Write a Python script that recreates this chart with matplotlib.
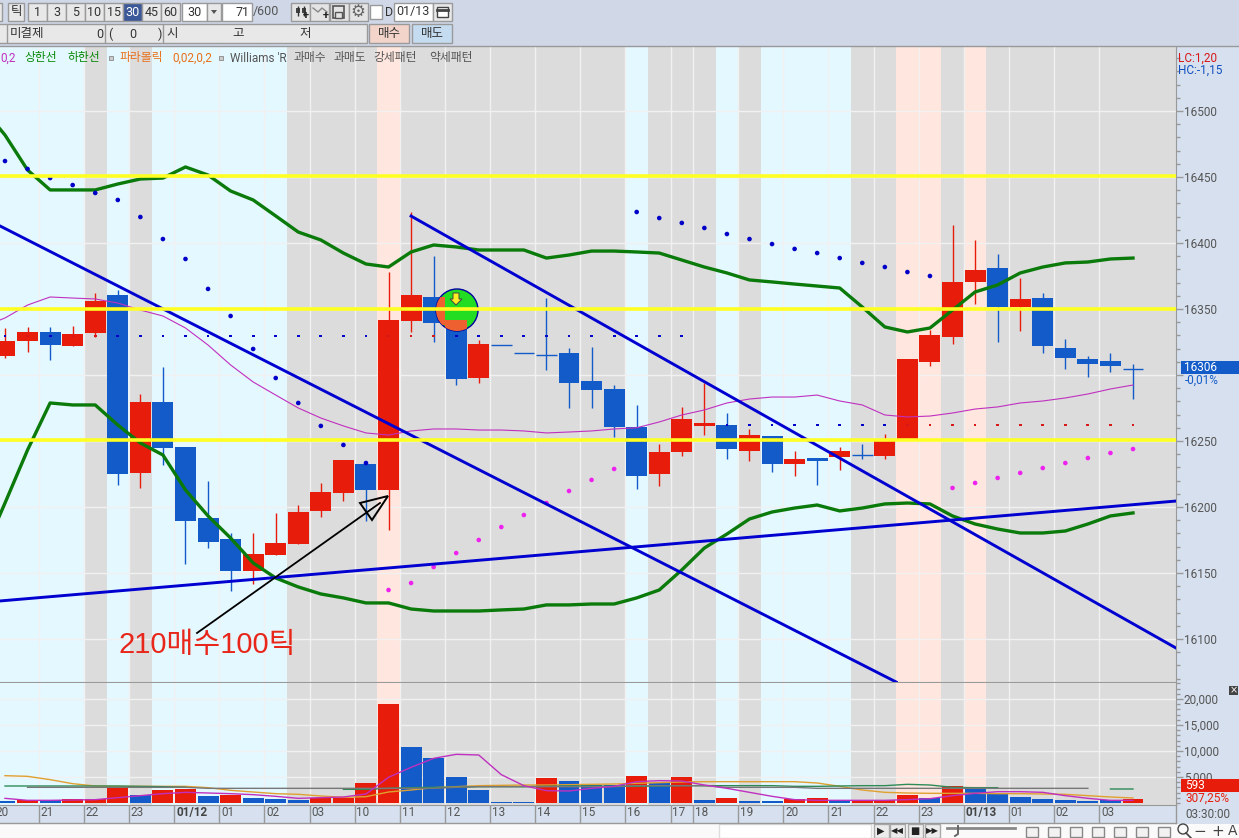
# HTS style 30 minute candle chart with volume panel
import numpy as np
import matplotlib
matplotlib.use('Agg')
import matplotlib.pyplot as plt
from matplotlib.patches import Rectangle, Circle, Polygon
from matplotlib.ticker import FixedLocator, MultipleLocator, FuncFormatter

plt.rcParams['font.family'] = ['Roboto', 'Noto Sans CJK KR', 'DejaVu Sans']

# candles
open_p = [16314.4,16325.8,16332.6,16322.0,16331.8,16360.6,16225.8,16279.5,16245.5,16191.7,16175.8,16151.5,16163.6,
          16172.0,16197.0,16210.6,16232.6,16212.9,16340.9,16359.1,16341.7,16297.7,16322.7,16316.7,16315.2,16316.7,
          16295.5,16289.4,16260.6,16225.0,16241.7,16261.4,16262.1,16242.4,16253.8,16232.6,16237.1,16237.9,16239.4,
          16238.6,16251.5,16309.8,16328.8,16370.5,16381.1,16351.5,16358.3,16320.5,16312.1,16310.6,16304.5]
close_p = [16325.8,16332.6,16322.7,16331.1,16356.1,16225.0,16279.5,16244.7,16189.4,16173.5,16151.5,16164.4,16172.7,
           16196.2,16211.4,16235.6,16212.9,16341.7,16360.6,16339.4,16297.0,16323.5,16322.7,16316.7,16315.2,16293.9,
           16288.6,16260.6,16223.5,16241.7,16266.7,16263.6,16243.9,16254.5,16232.6,16236.4,16234.8,16242.4,16239.4,
           16250.8,16312.1,16330.3,16370.5,16379.5,16351.5,16357.6,16322.0,16312.9,16308.3,16306.8,16304.5]
high_p = [16335.6,16336.4,16336.4,16337.1,16362.1,16364.4,16285.6,16306.1,16245.5,16219.7,16180.3,16180.3,16195.5,
          16201.5,16218.2,16235.6,16232.6,16378.0,16423.5,16390.2,16349.2,16326.5,16322.7,16316.7,16358.3,16320.5,
          16321.2,16292.4,16277.3,16247.7,16275.8,16293.9,16271.2,16259.1,16253.8,16242.4,16237.1,16245.5,16247.7,
          16255.3,16312.1,16334.1,16413.6,16402.3,16391.7,16373.5,16362.1,16327.3,16314.4,16316.7,16308.3]
low_p = [16312.9,16317.4,16311.4,16322.0,16328.8,16216.7,16214.4,16231.8,16156.8,16168.9,16136.4,16141.7,16163.6,
         16172.0,16192.4,16204.5,16189.4,16182.6,16332.6,16325.0,16292.4,16293.9,16322.7,16316.7,16303.8,16275.0,
         16275.0,16253.0,16213.6,16215.9,16238.6,16254.5,16236.4,16234.8,16226.5,16223.5,16216.7,16228.0,16236.4,
         16236.4,16251.5,16306.8,16323.5,16353.8,16325.0,16333.3,16316.7,16304.5,16298.5,16302.3,16281.8]
# pattern zone of each bar: c=oversold, g=none, p=overbought
zones = list('ccccgcgccccccggggpggggggggggcgggcgccccggppgpggggggg')

# envelope lines, first value belongs to the bar left of the window
upper_band = [16502.3,16481.8,16455.3,16440.2,16440.2,16440.2,16444.7,16448.5,16449.2,16457.6,16451.5,16439.4,16432.6,
              16420.5,16408.3,16402.3,16392.4,16384.1,16381.8,16393.2,16398.5,16397.0,16394.7,16394.7,16394.7,16388.6,
              16390.9,16393.9,16393.9,16393.2,16392.4,16387.1,16381.8,16377.3,16372.0,16370.5,16368.9,16367.4,16365.9,
              16351.5,16336.4,16332.6,16335.6,16349.2,16362.9,16368.2,16377.3,16381.8,16384.9,16385.6,16387.9,16388.6]
lower_band = [16163.6,16203.0,16243.2,16278.8,16277.3,16277.3,16262.1,16248.5,16239.4,16212.9,16193.2,16176.5,16157.6,
              16146.2,16139.4,16134.1,16131.1,16127.3,16127.3,16122.7,16121.2,16121.2,16121.2,16122.0,16122.7,16125.8,
              16125.8,16126.5,16126.5,16131.1,16137.1,16152.3,16168.9,16179.5,16190.9,16196.2,16199.2,16201.5,16197.0,
              16199.2,16202.3,16203.0,16202.3,16193.2,16187.1,16183.3,16180.3,16180.3,16181.8,16187.1,16193.2,16195.5]
mid_line = [16336.4,16343.2,16353.0,16359.1,16358.3,16357.6,16354.5,16349.2,16344.7,16335.6,16322.7,16307.6,16294.7,
            16284.8,16275.0,16267.4,16261.4,16256.1,16254.5,16257.6,16259.1,16259.1,16258.3,16258.3,16257.6,16256.1,
            16256.8,16257.6,16259.1,16260.0,16264.4,16269.7,16273.5,16278.8,16281.8,16283.3,16283.3,16284.8,16280.3,
            16277.3,16269.7,16268.2,16268.9,16271.2,16274.2,16275.8,16278.8,16280.3,16282.6,16285.6,16289.4,16292.4]

# parabolic SAR, True when it sits below the candles
sar = [16462.1,16456.1,16449.2,16443.9,16437.9,16432.6,16419.7,16403.0,16387.9,16365.2,16344.7,16319.7,16297.7,
       16278.8,16261.4,16247.0,16233.3,16137.1,16142.4,16154.5,16165.1,16175.0,16184.8,16193.9,16203.0,16212.1,
       16220.5,16228.8,16423.5,16418.9,16415.2,16411.4,16406.8,16403.0,16399.2,16395.5,16392.4,16388.6,16384.9,
       16381.8,16378.0,16375.0,16214.4,16218.2,16222.0,16225.8,16229.5,16233.3,16237.1,16240.9,16243.9]
sar_up = [False]*17 + [True]*11 + [False]*14 + [True]*9

# small Williams %R markers
wr_price = [16329.5]*31 + [np.nan] + [16262.1]*19
wr_up = [False,True,False,True,True] + [False]*12 + [True]*3 + [False]*20 + [True]*11

# horizontal levels and trend lines
levels = [16450.8, 16350.0, 16250.8]
trend_1 = ([-0.22, 39.5], [16412.9, 16067.4])
trend_2 = ([18.0, 51.9], [16420.4, 16093.2])
trend_3 = ([-0.22, 51.9], [16128.8, 16204.5])

# volume panel
volume = [385,513,513,769,769,2949,1538,2500,2692,1346,1538,962,769,577,897,897,3846,19038,10769,8654,5000,2500,192,192,
          4808,4231,3462,3462,5192,3846,5000,577,962,385,385,769,962,577,513,513,1538,962,3269,2692,1923,1154,769,577,
          385,513,769]
vol_up = [False,True,False,True,True,True,False,True,True,False,True,False,False,False,True,True,True,True,False,False,
          False,False,False,False,True,False,False,False,True,False,True,False,True,False,False,True,True,False,True,
          True,True,False,True,False,False,False,False,False,False,False,True]
vol_ma1 = [897,513,513,577,641,1026,1410,1795,2051,1923,1795,1603,1282,897,1026,1154,1731,4936,6859,8590,9359,9231,5449,
           3333,2372,2308,2820,3205,4102,4295,4231,3461,2820,2051,1282,641,513,513,513,513,641,833,1410,1859,2179,2179,
           2051,1410,897,513,513]
vol_ma2 = [5256,5128,4487,3718,3269,3205,3205,3205,3205,2949,2436,2115,1795,1667,1346,1090,1218,2115,2500,2949,3141,3333,
           3397,3461,3461,3526,3590,3654,3782,3910,4038,4102,4102,4102,4102,4102,3846,3205,2500,2051,1923,1859,1859,1859,
           1795,1795,1731,1667,1410,1154,962]
vol_ma3 = [3269]*6 + [3205,3141,3013] + [np.nan]*6 + [2628,2628,2820,2949,3013,3013,3141,3141,3141,3205,3269,3269,3205,
           3205,3269,3333,3333,3333,3333,3333,3205,3205,3269,3333,3333,3590,3461,3013,2949,2949] + [np.nan]*4 + [2692,2692]
vol_ma4 = [np.nan] + [3013]*8 + [2820]*11 + [3013] + [3141]*7 + [3333]*4 + [3013]*4 + [2820]*13 + [np.nan]*2

# time axis, label and the bar it starts at
time_labels = ['20','21','22','23','01/12','01','02','03','10','11','12','13','14','15','16','17','18','19','20','21',
               '22','23','01/13','01','02','03']
time_bars = [0,2,4,6,8,10,12,14,16,18,20,22,24,26,28,30,31,33,35,37,39,41,43,45,47,49]

price_ticks = [16100,16150,16200,16250,16300,16350,16400,16450,16500]
price_labels = ['16100','16150','16200','16250','','16350','16400','16450','16500']  # 16300 sits behind the price box
vol_ticks = [5000,10000,15000,20000]
period_buttons = ['1','3','5','10','15','30','45','60']

bars = np.arange(len(open_p))
line_x = np.arange(-1, len(open_p))
edges = np.array(time_bars) - 0.5

RED, BLUE = '#e81c0a', '#135bc8'
ZONE = {'c':'#e4f8ff', 'g':'#dcdcdc', 'p':'#ffe6de'}
TXT = '#555555'
W, H = 1239, 838

fig = plt.figure(figsize=(W/100, H/100), dpi=100, facecolor='#d6e0ee')
ax = fig.add_axes([0, (H-682)/H, 1176/W, 635/H])
vol = fig.add_axes([0, (H-805)/H, 1176/W, 122/H])
ui = fig.add_axes([0, 0, 1, 1], zorder=5)  # pixel coordinates for the terminal frame
ui.set_xlim(0, W)
ui.set_ylim(H, 0)
ui.axis('off')

for a in (ax, vol):
    a.set_facecolor(ZONE['g'])
    a.set_xlim(-0.2216, 51.906)
    for i, z in enumerate(zones):
        a.axvspan(i-0.5 if i > 0 else -1, i+0.5, color=ZONE[z], lw=0, zorder=0)
    a.xaxis.set_major_locator(FixedLocator(edges))
    a.grid(True, color='#f1f1f1', lw=1.0, zorder=1)
    a.set_axisbelow(True)
    a.yaxis.tick_right()
    for s in ('top', 'left'):
        a.spines[s].set_visible(False)
    for s in ('right', 'bottom'):
        a.spines[s].set_color('#999999')
    a.tick_params(axis='y', which='major', length=5, width=1, color='#999999', labelcolor=TXT, labelsize=8.5, pad=0.7)
    a.tick_params(axis='y', which='minor', length=3, width=1, color='#999999')

# price panel
ax.set_ylim(16067.4, 16548.5)
ax.set_yticks(price_ticks, price_labels)
ax.yaxis.set_minor_locator(MultipleLocator(10))
ax.tick_params(axis='x', length=0, labelbottom=False)
for i in bars:
    c = RED if close_p[i] > open_p[i] else BLUE
    ax.vlines(i, low_p[i], high_p[i], color=c, lw=1.0, zorder=2)
    top, bot = max(open_p[i], close_p[i]), min(open_p[i], close_p[i])
    if top == bot:
        ax.hlines(top, i-0.46, i+0.46, color=c, lw=1.0, zorder=2)
    else:
        ax.bar(i, top-bot, bottom=bot, width=0.93, color=c, lw=0, zorder=2)

ax.plot(line_x, mid_line, color='#c030c0', lw=0.8, zorder=3)
ax.plot(line_x, upper_band, color='#0a7a0a', lw=2.4, zorder=4, solid_joinstyle='round')
ax.plot(line_x, lower_band, color='#0a7a0a', lw=2.4, zorder=4, solid_joinstyle='round')

sar_c = ['#ee22ee' if u else '#0000c8' for u in sar_up]
ax.scatter(bars, sar, s=11, c=sar_c, linewidths=0, zorder=4)
wr_c = ['#d81818' if u else '#0000c8' for u in wr_up]
ax.scatter(bars, wr_price, s=4, marker='s', c=wr_c, linewidths=0, zorder=4)

for t in (trend_1, trend_2, trend_3):
    ax.plot(t[0], t[1], color='#0000d0', lw=2.1, zorder=5)

# signal circle sitting on top of the candles, under the yellow levels
sig = Circle((457, 310), 21, transform=ui.transData, fc='#22dd22', ec='#0000a0', lw=1, zorder=6)
ax.add_patch(sig)
for box_xy in ((436, 297, 9, 28), (445, 320, 22, 11)):
    r = Rectangle(box_xy[:2], box_xy[2], box_xy[3], transform=ui.transData, fc='#ee6030', lw=0, zorder=6)
    ax.add_patch(r)
    r.set_clip_path(sig)
ax.add_patch(Polygon([(453, 293), (459, 293), (459, 299), (462, 299), (456, 305), (450, 299), (453, 299)],
                     transform=ui.transData, fc='#ffee22', ec='#444444', lw=0.7, zorder=6))

for lv in levels:
    ax.axhline(lv, color='#ffff22', lw=2.6, zorder=7)

# volume panel
vol.set_ylim(-385, 23077)
vol.yaxis.set_major_locator(FixedLocator(vol_ticks))
vol.yaxis.set_minor_locator(MultipleLocator(1000))
vol.yaxis.set_major_formatter(FuncFormatter(lambda v, p: f'{int(v):,}'))
vol.bar(bars, volume, width=0.93, color=[RED if u else BLUE for u in vol_up], lw=0, zorder=2)
vol.plot(bars, vol_ma2, color='#e0a030', lw=1.0, zorder=3)
vol.plot(bars, vol_ma3, color='#2e8b57', lw=1.0, zorder=3)
vol.plot(bars, vol_ma4, color='#777777', lw=1.0, zorder=3)
vol.plot(bars, vol_ma1, color='#c030c0', lw=1.0, zorder=4)
vol.tick_params(axis='x', length=13, width=1, color='#999999', labelbottom=False)
for lab, e in zip(time_labels, edges):
    bold = '/' in lab
    vol.text(e+0.08, -1900, lab, color='#444444' if bold else TXT, fontsize=8.5,
             fontweight='bold' if bold else 'normal', va='center', ha='left', clip_on=False)

# terminal frame, toolbar rows
def box(x, y, w, h, fc, ec='#9a9a9a', lw=1):
    ui.add_patch(Rectangle((x, y), w, h, fc=fc, ec=ec, lw=lw))

def txt(x, y, s, color='#333333', size=9, ha='left', **kw):
    ui.text(x, y, s, color=color, fontsize=size, ha=ha, va='center', **kw)

box(0, 0, W, 46, '#d0d8e8', ec='none', lw=0)
ui.plot([0, W], [46, 46], color='#999999', lw=1)
box(-2, 3, 4, 18, '#e8e8e8')
box(8, 3, 16, 18, '#e8e8e8')
txt(16, 12, '틱', ha='center', size=9)
for n, b in enumerate(period_buttons):
    x = 28 + 19*n
    sel = b == '30'
    box(x, 3, 19, 18, '#3b5998' if sel else '#e8e8e8')
    txt(x+9.5, 12, b, color='white' if sel else '#333333', ha='center')
box(182, 3, 25, 18, 'white')
txt(194, 12, '30', ha='center')
box(207, 3, 14, 18, '#e8e8e8')
ui.add_patch(Polygon([(211, 10), (217, 10), (214, 14)], fc='#555555', lw=0))
box(222, 3, 30, 18, 'white')
txt(249, 12, '71', ha='right')
txt(253, 12, '/600', color='#555555')
for n in range(4):
    box(291+19.3*n, 3, 19, 18, '#e4e4e4')
ui.vlines([298, 304], 6, 16, color='#333333', lw=1)
ui.add_patch(Rectangle((296, 8), 4, 5, fc='#444444', lw=0))
ui.add_patch(Rectangle((302, 8), 4, 5, fc='#444444', lw=0))
txt(306, 16, '+', size=8, ha='center', color='#222222', fontweight='bold')
ui.plot([313, 318, 322, 327], [8, 12, 8, 12], color='#888888', lw=1)
txt(326, 16, '+', size=8, ha='center', color='#222222', fontweight='bold')
ui.add_patch(Rectangle((333, 6), 11, 12, fc='#e4e4e4', ec='#555555', lw=1.2))
ui.add_patch(Rectangle((335, 12), 7, 6, fc='#e4e4e4', ec='#555555', lw=1))
txt(358, 12, '⚙', size=12, ha='center', color='#666666', family='DejaVu Sans')
box(370, 5, 12, 14, 'white')
txt(385, 12, 'D')
box(394, 3, 39, 18, 'white')
txt(413, 12, '01/13', ha='center')
box(433, 3, 19, 18, '#e8e8e8')
ui.add_patch(Rectangle((437, 7), 11, 10, fc='white', ec='#444444', lw=1))
ui.plot([437, 448], [10, 10], color='#444444', lw=2)

box(-2, 24, 369, 19, '#e8e8e8')
ui.vlines([7, 105, 163], 24, 43, color='#9a9a9a', lw=1)
txt(10, 34, '미결제', size=9)
txt(103, 34, '0', ha='right')
txt(108, 34, '(')
txt(133, 34, '0', ha='center')
txt(158, 34, ')')
txt(166, 34, '시', size=9)
txt(238, 34, '고', size=9, ha='center')
txt(305, 34, '저', size=9, ha='center')
box(369, 24, 40, 19, '#f3d4cb')
txt(389, 34, '매수', size=9, ha='center')
box(412, 24, 40, 19, '#c5dcf0')
txt(432, 34, '매도', size=9, ha='center')

# indicator legend row
for x, s, c in [(0, '0,2', '#c030c0'), (24, '상한선', '#0a8a0a'), (68, '하한선', '#0a8a0a'), (120, '파라볼릭', '#e8701a'),
                (172, '0,02,0,2', '#e8701a'), (230, "Williams 'R", '#555555'), (293, '과매수', '#555555'),
                (333, '과매도', '#555555'), (373, '강세패턴', '#555555'), (429, '약세패턴', '#555555')]:
    txt(x, 58, s, color=c, size=8.5)
for x in (111, 221):
    ui.add_patch(Rectangle((x-2, 56), 4, 4, fc='#cccccc', ec='#888888', lw=0.6))

# right scale extras
txt(1178, 58, 'LC:1,20', color='#d81818', size=8.5)
txt(1178, 70, 'HC:-1,15', color='#1050c0', size=8.5)
box(1181, 361, 58, 13, BLUE, ec='none', lw=0)
txt(1184, 367.5, '16306', color='white', size=8.5)
txt(1185, 380.5, '-0,01%', color=BLUE, size=8.5)
box(1181, 779, 58, 13, RED, ec='none', lw=0)
txt(1185, 785.5, '593', color='white', size=8.5)
txt(1185, 798, '307,25%', color=RED, size=8.5)
box(1229, 686, 9, 9, '#444444', ec='none', lw=0)
txt(1233.5, 690, '×', color='white', size=7, ha='center', family='DejaVu Sans')
ui.plot([0, 1176], [823, 823], color='#999999', lw=1)
ui.plot([1176, 1176], [805, 823], color='#999999', lw=1)
txt(1185, 814, '03:30:00', size=8.5, color=TXT)

# bottom bar
box(0, 824, 1239, 14, '#fafafa', ec='none', lw=0)
box(719, 824, 152, 14, '#ffffff', ec='#dddddd')
for x, s in [(881, '▶'), (897, '◀◀'), (915, '■'), (932, '▶▶')]:
    box(x-7, 824, 14.5, 14, '#ececec', ec='#aaaaaa')
    txt(x, 831, s, color='#222222', size=6 if len(s) == 2 else 7, ha='center', family='DejaVu Sans')
ui.plot([947, 1015], [828, 828], color='#888888', lw=2)
ui.plot([958, 958, 955], [826, 834, 836], color='#666666', lw=1.4)
for n in range(7):
    box(1026+22*n, 827, 12, 10, '#f2f2f2', ec='#888888')
ui.add_patch(Circle((1183, 829), 5, fc='none', ec='#444444', lw=1))
ui.plot([1186, 1191], [833, 838], color='#444444', lw=1.2)
txt(1200, 831, '−', color='#444444', size=11, ha='center', family='DejaVu Sans')
txt(1218, 831, '+', color='#444444', size=11, ha='center', family='DejaVu Sans')
txt(1233, 831, 'A', color='#444444', size=10, ha='center', family='DejaVu Sans')

# hand drawn note
ui.plot([197, 380], [633, 503], color='black', lw=1.3)
ui.add_patch(Polygon([(388, 496), (360, 503), (372, 520)], fc='none', ec='black', lw=1.4))
ui.text(118, 645, '210매수100틱', color='#e8261a', fontsize=21, va='center', ha='left',
        family=['Liberation Sans', 'Noto Sans CJK KR'])

fig.savefig('out.png', dpi=100, facecolor=fig.get_facecolor())
